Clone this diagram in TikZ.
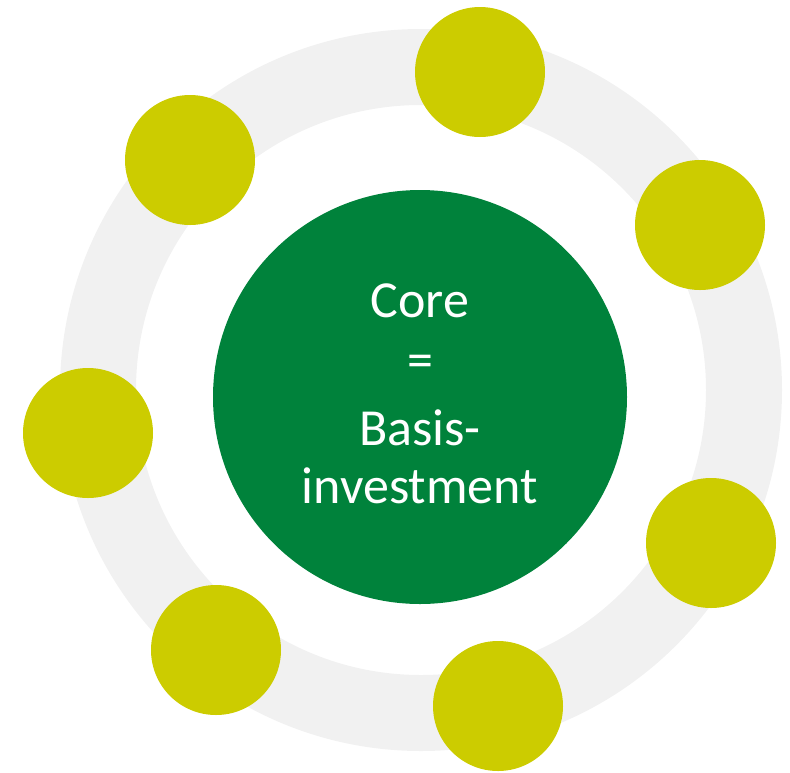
\documentclass[tikz,border=0pt]{standalone}
\usepackage{fontspec}
\setmainfont{Carlito}
\definecolor{ringgrey}{HTML}{F1F1F1}
\definecolor{coregreen}{HTML}{00823B}
\definecolor{satyellow}{HTML}{CCCC00}
\begin{document}
\begin{tikzpicture}[x=1pt,y=-1pt,
  sat/.style={circle,fill=satyellow,minimum size=130pt,inner sep=0pt},
  coretext/.style={anchor=base,text=white,font=\fontsize{52}{52}\selectfont,inner sep=0pt}]
\useasboundingbox (0,0) rectangle (790,772);
% ring
\fill[ringgrey,even odd rule] (421,390) circle[radius=361] (421,390) circle[radius=285];
% core
\node[circle,fill=coregreen,minimum size=414pt,inner sep=0pt] (core) at (420,397) {};
\node[coretext] (t1) at (420,317) {Core};
\node[coretext,anchor=center] (t2) at (420,366) {=};
\node[coretext] (t3) at (420,445) {Basis-};
\node[coretext] (t4) at (420,503) {investment};
% satellites
\node[sat] (s1) at (480,72) {};
\node[sat] (s2) at (190,160) {};
\node[sat] (s3) at (700,225) {};
\node[sat] (s4) at (88,433) {};
\node[sat] (s5) at (711,543) {};
\node[sat] (s6) at (216,650) {};
\node[sat] (s7) at (498,706) {};
\end{tikzpicture}
\end{document}
